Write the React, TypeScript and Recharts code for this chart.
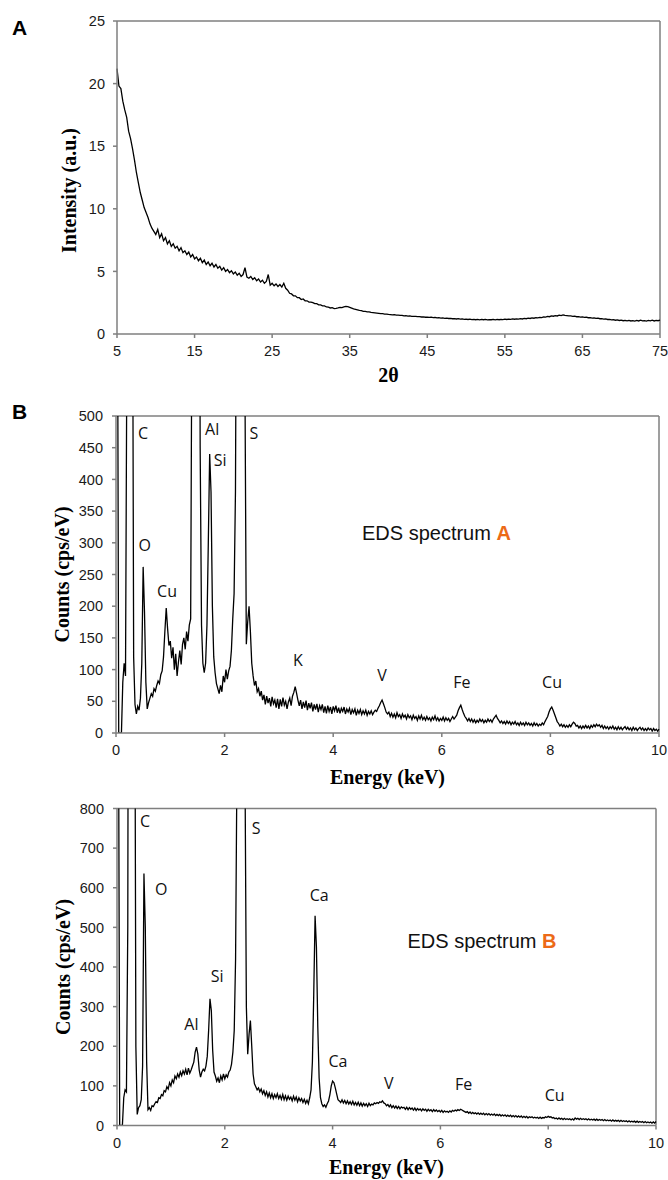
import React from "react"
import { LineChart, Line, XAxis, YAxis, ReferenceDot, ReferenceLine, Label } from "recharts"

// XRD pattern (panel A), 2θ from 5 to 75 in 0.25° steps
const xrdStart = 5
const xrdStep = 0.25
const xrdIntensity = [
  21.2, 19.8, 19.6, 18.6, 17.9, 17.3, 16.2, 15.6, 14.8, 13.9, 12.9, 12.1, 11.3, 10.7, 10.1, 9.7, 9.3, 8.8, 8.45, 8.2, 7.95,
  8.35, 7.7, 8.0, 7.45, 7.7, 7.2, 7.45, 7.0, 7.2, 6.85, 7.0, 6.65, 6.9, 6.5, 6.65, 6.35, 6.55, 6.15, 6.35, 6.0,
  6.15, 5.85, 6.05, 5.7, 5.9, 5.55, 5.75, 5.45, 5.65, 5.35, 5.55, 5.25, 5.4, 5.1, 5.3, 5.0, 5.15, 4.9, 5.05, 4.8,
  4.95, 4.7, 4.85, 4.6, 4.75, 5.3, 4.55, 4.45, 4.6, 4.35, 4.5, 4.25, 4.4, 4.15, 4.3, 4.05, 4.2, 4.75, 3.9, 4.05,
  3.85, 4.0, 3.8, 3.95, 3.75, 4.05, 3.65, 3.5, 3.25, 3.2, 3.05, 3.05, 2.9, 2.9, 2.75, 2.8, 2.65, 2.65, 2.55, 2.55,
  2.5, 2.42, 2.42, 2.33, 2.32, 2.25, 2.24, 2.16, 2.15, 2.08, 2.1, 2.03, 2.05, 2.08, 2.12, 2.1, 2.16, 2.2, 2.18, 2.12,
  2.06, 2.0, 1.96, 1.92, 1.88, 1.86, 1.8, 1.8, 1.76, 1.76, 1.72, 1.7, 1.68, 1.66, 1.64, 1.62, 1.62, 1.58, 1.59, 1.56,
  1.55, 1.53, 1.54, 1.51, 1.5, 1.48, 1.49, 1.45, 1.46, 1.43, 1.44, 1.41, 1.4, 1.41, 1.38, 1.38, 1.36, 1.37, 1.34, 1.35,
  1.33, 1.34, 1.31, 1.32, 1.29, 1.3, 1.27, 1.28, 1.25, 1.27, 1.24, 1.25, 1.22, 1.23, 1.2, 1.22, 1.19, 1.2, 1.17, 1.18,
  1.16, 1.18, 1.15, 1.17, 1.14, 1.16, 1.13, 1.17, 1.14, 1.16, 1.13, 1.15, 1.14, 1.17, 1.13, 1.16, 1.14, 1.17, 1.15, 1.18,
  1.16, 1.19, 1.17, 1.2, 1.18, 1.21, 1.19, 1.23, 1.2, 1.24, 1.22, 1.26, 1.24, 1.28, 1.26, 1.3, 1.29, 1.33, 1.31, 1.36,
  1.35, 1.4, 1.38, 1.44, 1.42, 1.46, 1.44, 1.5, 1.47, 1.52, 1.48, 1.46, 1.44, 1.45, 1.41, 1.42, 1.38, 1.39, 1.35, 1.36,
  1.33, 1.34, 1.3, 1.31, 1.27, 1.29, 1.25, 1.26, 1.22, 1.23, 1.19, 1.2, 1.16, 1.17, 1.13, 1.15, 1.1, 1.12, 1.08, 1.1,
  1.06, 1.09, 1.05, 1.08, 1.04, 1.07, 1.03, 1.08, 1.04, 1.1, 1.05, 1.07, 1.03, 1.08, 1.05, 1.1, 1.04, 1.09, 1.06, 1.1,
]

// EDS spectra, 0 to 10 keV in 0.025 keV steps (counts in cps/eV)
const edsStep = 0.025
const edsCountsA = [
  1500, 800, 0, 0, 0, 80, 110, 90, 600, 2000, 3000, 2500, 900, 120, 45, 30, 42, 36, 55, 110,
  262, 190, 80, 38, 48, 55, 62, 58, 70, 66, 75, 82, 78, 92, 98, 120, 160, 197, 165, 138,
  145, 118, 135, 100, 125, 90, 112, 130, 108, 140, 150, 132, 160, 145, 170, 180, 700, 1800, 2600, 2800,
  2200, 1200, 450, 170, 110, 95, 110, 170, 300, 440, 380, 200, 120, 95, 78, 70, 62, 75, 65, 90,
  80, 100, 85, 98, 105, 130, 180, 220, 380, 900, 2800, 3400, 3500, 2600, 1400, 550, 140, 175, 200, 160,
  110, 90, 75, 82, 65, 70, 58, 66, 52, 60, 45, 58, 47, 55, 42, 57, 46, 52, 40, 54,
  38, 53, 42, 56, 44, 50, 38, 49, 55, 43, 58, 64, 73, 63, 52, 43, 52, 38, 49, 40,
  51, 36, 47, 39, 48, 34, 45, 37, 46, 33, 43, 37, 45, 32, 42, 31, 43, 34, 41, 30,
  42, 35, 43, 32, 40, 31, 39, 34, 41, 30, 38, 33, 39, 29, 37, 32, 38, 28, 36, 31,
  37, 29, 35, 30, 36, 28, 34, 30, 35, 29, 33, 36, 34, 39, 43, 48, 52, 46, 40, 33,
  30, 33, 26, 31, 25, 30, 24, 32, 26, 29, 23, 30, 25, 28, 22, 29, 24, 27, 21, 28,
  23, 26, 20, 27, 22, 28, 21, 25, 20, 26, 21, 24, 19, 25, 21, 27, 20, 24, 19, 23,
  20, 25, 19, 24, 20, 23, 18, 22, 26, 22, 25, 28, 35, 40, 44, 37, 31, 26, 23, 19,
  23, 18, 22, 17, 21, 16, 20, 17, 22, 18, 21, 16, 20, 17, 22, 18, 21, 17, 22, 25,
  28, 23, 20, 16, 19, 15, 18, 14, 19, 15, 18, 13, 17, 14, 18, 13, 16, 12, 17, 13,
  16, 12, 17, 13, 16, 12, 15, 11, 16, 12, 15, 11, 14, 12, 16, 13, 18, 22, 26, 33,
  38, 41, 36, 30, 24, 18, 15, 11, 14, 10, 13, 9, 12, 9, 13, 10, 14, 17, 15, 11,
  12, 8, 11, 7, 11, 8, 12, 8, 11, 7, 12, 9, 13, 10, 14, 11, 13, 9, 12, 7,
  11, 7, 10, 6, 10, 7, 11, 6, 9, 5, 10, 6, 9, 5, 8, 10, 6, 9, 5, 8,
  4, 9, 5, 8, 4, 7, 9, 5, 8, 4, 7, 4, 8, 5, 7, 3, 7, 4, 6, 3,
  6,
]
const edsCountsB = [
  2000, 1200, 0, 0, 0, 70, 90, 85, 500, 2500, 4500, 5000, 3800, 1500, 200, 28, 45, 50, 65, 150,
  636, 500, 160, 40, 45, 38, 50, 48, 55, 60, 58, 70, 68, 78, 75, 88, 85, 98, 92, 108,
  100, 115, 108, 125, 118, 130, 122, 135, 126, 138, 130, 142, 128, 145, 132, 140, 150, 160, 185, 198,
  180, 140, 122, 135, 142, 138, 150, 175, 240, 320, 290, 190, 135, 125, 112, 120, 108, 125, 115, 130,
  118, 128, 122, 135, 140, 155, 185, 240, 420, 900, 2500, 4200, 4800, 4000, 2200, 900, 300, 180, 230, 265,
  200, 130, 105, 98, 90, 95, 85, 92, 80, 88, 76, 85, 72, 82, 70, 80, 68, 78, 70, 80,
  68, 76, 66, 78, 65, 75, 64, 74, 66, 72, 62, 74, 64, 72, 60, 70, 62, 68, 58, 66,
  56, 64, 55, 70, 90, 160, 330, 529, 450, 250, 120, 70, 55, 48, 52, 46, 55, 62, 78, 100,
  112, 108, 95, 80, 65, 62, 58, 65, 57, 63, 55, 62, 54, 60, 53, 61, 52, 58, 51, 59,
  50, 57, 49, 56, 50, 55, 48, 56, 50, 54, 52, 57, 55, 58, 56, 60, 58, 62, 57, 55,
  50, 53, 47, 52, 45, 50, 44, 49, 43, 48, 42, 47, 44, 46, 41, 46, 40, 45, 41, 44,
  39, 44, 38, 43, 39, 42, 37, 42, 38, 41, 36, 41, 37, 40, 35, 40, 36, 39, 35, 38,
  34, 38, 33, 37, 34, 36, 33, 37, 34, 38, 36, 39, 37, 40, 38, 41, 39, 37, 35, 33,
  35, 31, 34, 30, 33, 30, 32, 29, 32, 28, 31, 28, 31, 27, 30, 27, 30, 26, 29, 26,
  29, 25, 28, 25, 28, 24, 27, 24, 27, 23, 26, 23, 26, 22, 25, 22, 25, 21, 24, 21,
  24, 20, 23, 20, 23, 19, 22, 20, 22, 19, 21, 19, 21, 18, 21, 18, 20, 19, 22, 20,
  23, 21, 22, 19, 20, 17, 19, 16, 19, 16, 18, 15, 18, 15, 17, 15, 17, 14, 17, 14,
  19, 16, 18, 15, 18, 15, 17, 15, 17, 14, 17, 14, 16, 14, 16, 13, 16, 13, 15, 13,
  15, 12, 15, 12, 14, 12, 14, 11, 14, 11, 13, 11, 13, 10, 13, 10, 12, 10, 12, 9,
  12, 9, 11, 9, 11, 8, 11, 8, 10, 8, 10, 7, 10, 7, 9, 7, 9, 6, 9, 6,
  10,
]

const xrdXTicks = [5, 15, 25, 35, 45, 55, 65, 75]
const xrdYTicks = [0, 5, 10, 15, 20, 25]
const energyTicks = [0, 2, 4, 6, 8, 10]
const countsTicksA = [0, 50, 100, 150, 200, 250, 300, 350, 400, 450, 500]
const countsTicksB = [0, 100, 200, 300, 400, 500, 600, 700, 800]

// element labels, placed in data units (keV, counts)
const peakLabelsA = [
  { name: "C", energy: 0.5, counts: 473 },
  { name: "Al", energy: 1.77, counts: 480 },
  { name: "S", energy: 2.54, counts: 473 },
  { name: "Si", energy: 1.92, counts: 430 },
  { name: "O", energy: 0.53, counts: 297 },
  { name: "Cu", energy: 0.94, counts: 224 },
  { name: "K", energy: 3.35, counts: 115 },
  { name: "V", energy: 4.9, counts: 91 },
  { name: "Fe", energy: 6.37, counts: 80 },
  { name: "Cu", energy: 8.03, counts: 80 },
]
const peakLabelsB = [
  { name: "C", energy: 0.52, counts: 769 },
  { name: "S", energy: 2.58, counts: 751 },
  { name: "O", energy: 0.82, counts: 596 },
  { name: "Ca", energy: 3.75, counts: 581 },
  { name: "Si", energy: 1.86, counts: 377 },
  { name: "Al", energy: 1.38, counts: 256 },
  { name: "Ca", energy: 4.1, counts: 162 },
  { name: "V", energy: 5.04, counts: 107 },
  { name: "Fe", energy: 6.43, counts: 104 },
  { name: "Cu", energy: 8.12, counts: 76 },
]
const titleA = { text: "EDS spectrum ", tag: "A", energy: 4.53, counts: 316 }
const titleB = { text: "EDS spectrum ", tag: "B", energy: 5.39, counts: 466 }

const xrdData = xrdIntensity.map((v, i) => ({ theta: xrdStart + i * xrdStep, intensity: v }))
const edsDataA = edsCountsA.map((v, i) => ({ energy: +(i * edsStep).toFixed(3), counts: v }))
const edsDataB = edsCountsB.map((v, i) => ({ energy: +(i * edsStep).toFixed(3), counts: v }))

const AXIS = "#7f7f7f"
const SANS = "'Liberation Sans', Arial, sans-serif"
const SERIF = "'Liberation Serif', 'Times New Roman', serif"
const tickStyle = { fill: "#1a1a1a", fontSize: 14.5, fontFamily: SANS }
const titleStyle = { fill: "#000", fontSize: 20, fontWeight: "bold", fontFamily: SERIF }

function EdsChart({ data, top, height, margin, yWidth, xHeight, yMax, yTicks, labels, title, titleDy }) {
  return (
    <div style={{ position: "absolute", left: 0, top }}>
      <LineChart width={668} height={height} data={data} margin={margin}>
        <XAxis
          dataKey="energy"
          type="number"
          domain={[0, 10]}
          ticks={energyTicks}
          height={xHeight}
          stroke={AXIS}
          strokeWidth={1.5}
          tickSize={4}
          tickMargin={8}
          tick={tickStyle}
        >
          <Label value="Energy (keV)" position="center" dy={titleDy} {...titleStyle} />
        </XAxis>
        <YAxis
          type="number"
          domain={[0, yMax]}
          ticks={yTicks}
          allowDataOverflow
          width={yWidth}
          stroke={AXIS}
          strokeWidth={1.5}
          tickSize={4}
          tickMargin={9}
          tick={tickStyle}
        >
          <Label value="Counts (cps/eV)" angle={-90} position="center" dx={4} {...titleStyle} />
        </YAxis>
        <ReferenceLine y={yMax} stroke={AXIS} strokeWidth={1.5} />
        <ReferenceLine x={10} stroke={AXIS} strokeWidth={1.5} />
        <Line
          type="linear"
          dataKey="counts"
          stroke="#000"
          strokeWidth={1.3}
          dot={false}
          isAnimationActive={false}
        />
        {labels.map((l, i) => (
          <ReferenceDot
            key={i}
            x={l.energy}
            y={l.counts}
            r={0}
            shape={(p) => (
              <text
                x={p.cx}
                y={p.cy}
                textAnchor="middle"
                dominantBaseline="central"
                fontSize={16}
                fontFamily="'Open Sans', sans-serif"
                fill="#111"
              >
                {l.name}
              </text>
            )}
          />
        ))}
        <ReferenceDot
          x={title.energy}
          y={title.counts}
          r={0}
          shape={(p) => (
            <text x={p.cx} y={p.cy} dominantBaseline="central" fontSize={20} fontFamily={SANS} fill="#111">
              {title.text}
              <tspan fill="#ec6a17" fontWeight="bold">{title.tag}</tspan>
            </text>
          )}
        />
      </LineChart>
    </div>
  )
}

export default function App() {
  return (
    <div style={{ position: "absolute", left: 0, top: 0, width: 668, height: 1180, background: "#fff", overflow: "hidden" }}>
      <div style={{ position: "absolute", left: 0, top: 0 }}>
        <LineChart width={668} height={400} data={xrdData} margin={{ top: 21, right: 8, bottom: 6, left: 0 }}>
          <XAxis
            dataKey="theta"
            type="number"
            domain={[5, 75]}
            ticks={xrdXTicks}
            height={60}
            stroke={AXIS}
            strokeWidth={1.5}
            tickSize={4}
            tickMargin={8}
            tick={tickStyle}
          >
            <Label value="2θ" position="center" dy={11} {...titleStyle} />
          </XAxis>
          <YAxis
            type="number"
            domain={[0, 25]}
            ticks={xrdYTicks}
            allowDataOverflow
            width={117}
            stroke={AXIS}
            strokeWidth={1.5}
            tickSize={4}
            tickMargin={8}
            tick={tickStyle}
          >
            <Label value="Intensity (a.u.)" angle={-90} position="center" dx={10.5} dy={13} {...titleStyle} />
          </YAxis>
          <ReferenceLine y={25} stroke={AXIS} strokeWidth={1.5} />
          <ReferenceLine x={75} stroke={AXIS} strokeWidth={1.5} />
          <Line
            type="linear"
            dataKey="intensity"
            stroke="#000"
            strokeWidth={1.3}
            dot={false}
            isAnimationActive={false}
          />
        </LineChart>
      </div>

      <EdsChart
        data={edsDataA}
        top={380}
        height={420}
        margin={{ top: 36, right: 9, bottom: 7, left: 0 }}
        yWidth={116}
        xHeight={60}
        yMax={500}
        yTicks={countsTicksA}
        labels={peakLabelsA}
        title={titleA}
        titleDy={14}
      />
      <EdsChart
        data={edsDataB}
        top={780}
        height={400}
        margin={{ top: 28.5, right: 12, bottom: 6.5, left: 0 }}
        yWidth={117}
        xHeight={48}
        yMax={800}
        yTicks={countsTicksB}
        labels={peakLabelsB}
        title={titleB}
        titleDy={17}
      />

      <svg width={668} height={1180} style={{ position: "absolute", left: 0, top: 0, pointerEvents: "none" }}>
        <text x={12} y={35} fontSize={21} fontWeight="bold" fontFamily={SANS} fill="#000">A</text>
        <text x={12} y={419} fontSize={21} fontWeight="bold" fontFamily={SANS} fill="#000">B</text>
      </svg>
    </div>
  )
}
